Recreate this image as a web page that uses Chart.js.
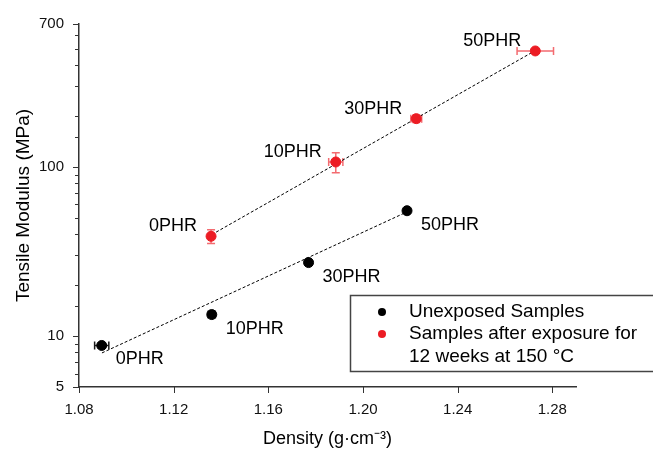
<!DOCTYPE html>
<html>
<head>
<meta charset="utf-8">
<script src="https://cdn.jsdelivr.net/npm/chart.js@4"></script>
<style>
  body { margin: 0; background: #fff; }
  canvas { display: block; }
</style>
</head>
<body>
<canvas id="myChart" width="653" height="450"></canvas>
<script>

// data start

const categories = ['0PHR', '10PHR', '30PHR', '50PHR'];

const unexposedDensity = [1.0896, 1.1361, 1.1770, 1.2186];
const unexposedModulus = [8.8, 13.4, 27.2, 55.1];
const unexposedDensityErr = [0.003, 0.0015, 0.001, 0.0005];
const unexposedModulusErr = [0.3, 0.5, 0.8, 1.5];

const exposedDensity = [1.1358, 1.1885, 1.2225, 1.2728];
const exposedModulus = [38.9, 107, 193, 485];
const exposedDensityErr = [0.001, 0.003, 0.0023, 0.0077];
const exposedModulusErr = [3.6, 14.5, 10, 15];

const fitUnexposedX = [1.0897, 1.2183];
const fitUnexposedY = [7.95, 54];
const fitExposedX = [1.1361, 1.2714];
const fitExposedY = [39.8, 475];

const xTicks = [1.08, 1.12, 1.16, 1.20, 1.24, 1.28];
const yTickLabels = [5, 10, 100, 700];

const seriesNames = ['Unexposed Samples', 'Samples after exposure for', '12 weeks at 150 \u00B0C'];

// data end

const FONT = 'Liberation Sans, Arial, Helvetica, sans-serif';
const RED = '#ec1c24';
const AXIS = '#333333';

function toPoints(xs, ys) {
  return xs.map(function (x, i) { return { x: x, y: ys[i] }; });
}

// error bars, drawn under the markers
const errorBars = {
  id: 'errorBars',
  beforeDatasetsDraw: function (chart) {
    const ctx = chart.ctx;
    const xs = chart.scales.x;
    const ys = chart.scales.y;
    const sets = [
      [unexposedDensity, unexposedModulus, unexposedDensityErr, unexposedModulusErr, 'rgba(0,0,0,0.9)'],
      [exposedDensity, exposedModulus, exposedDensityErr, exposedModulusErr, 'rgba(236,28,36,0.65)']
    ];
    ctx.save();
    ctx.lineWidth = 1.5;
    sets.forEach(function (s) {
      ctx.strokeStyle = s[4];
      s[0].forEach(function (d, i) {
        const px = xs.getPixelForValue(d);
        const py = ys.getPixelForValue(s[1][i]);
        const x1 = xs.getPixelForValue(d - s[2][i]);
        const x2 = xs.getPixelForValue(d + s[2][i]);
        const y1 = ys.getPixelForValue(s[1][i] + s[3][i]);
        const y2 = ys.getPixelForValue(s[1][i] - s[3][i]);
        ctx.beginPath();
        ctx.moveTo(x1, py); ctx.lineTo(x2, py);
        ctx.moveTo(x1, py - 4); ctx.lineTo(x1, py + 4);
        ctx.moveTo(x2, py - 4); ctx.lineTo(x2, py + 4);
        ctx.moveTo(px, y1); ctx.lineTo(px, y2);
        ctx.moveTo(px - 4, y1); ctx.lineTo(px + 4, y1);
        ctx.moveTo(px - 4, y2); ctx.lineTo(px + 4, y2);
        ctx.stroke();
      });
    });
    ctx.restore();
  }
};

// tick marks, point labels and legend box
const extras = {
  id: 'extras',
  afterDraw: function (chart) {
    const ctx = chart.ctx;
    const xs = chart.scales.x;
    const ys = chart.scales.y;
    const area = chart.chartArea;
    ctx.save();

    // tick marks
    ctx.strokeStyle = AXIS;
    ctx.lineWidth = 1;
    ys.ticks.forEach(function (t) {
      const major = yTickLabels.some(function (v) { return Math.abs(v - t.value) < 1e-6; });
      const y = Math.round(ys.getPixelForValue(t.value)) + 0.5;
      ctx.beginPath();
      ctx.moveTo(area.left - (major ? 6 : 4), y);
      ctx.lineTo(area.left, y);
      ctx.stroke();
    });
    xs.ticks.forEach(function (t) {
      const x = Math.round(xs.getPixelForValue(t.value)) + 0.5;
      ctx.beginPath();
      ctx.moveTo(x, area.bottom);
      ctx.lineTo(x, area.bottom + 6);
      ctx.stroke();
    });

    // point labels
    ctx.font = '18px ' + FONT;
    ctx.fillStyle = '#000';
    ctx.textBaseline = 'middle';
    ctx.textAlign = 'right';
    categories.forEach(function (c, i) {
      ctx.fillText(c, xs.getPixelForValue(exposedDensity[i]) - 14, ys.getPixelForValue(exposedModulus[i]) - 10);
    });
    ctx.textAlign = 'left';
    categories.forEach(function (c, i) {
      ctx.fillText(c, xs.getPixelForValue(unexposedDensity[i]) + 14, ys.getPixelForValue(unexposedModulus[i]) + 14);
    });

    // legend
    ctx.strokeStyle = '#444';
    ctx.lineWidth = 1.5;
    ctx.strokeRect(350.5, 295.5, 320, 76);
    ctx.font = '19px ' + FONT;
    ctx.fillStyle = '#000';
    ctx.beginPath(); ctx.arc(382, 312, 4, 0, Math.PI * 2); ctx.fill();
    ctx.fillStyle = RED;
    ctx.beginPath(); ctx.arc(382, 334, 4, 0, Math.PI * 2); ctx.fill();
    ctx.fillStyle = '#000';
    ctx.fillText(seriesNames[0], 409, 312);
    ctx.fillText(seriesNames[1], 409, 334);
    ctx.fillText(seriesNames[2], 409, 357);

    ctx.restore();
  }
};

const ctx = document.getElementById('myChart');

new Chart(ctx, {
  type: 'scatter',
  data: {
    datasets: [{
      label: seriesNames[0],
      data: toPoints(unexposedDensity, unexposedModulus),
      backgroundColor: '#000',
      borderColor: '#000',
      pointRadius: 5,
      pointHoverRadius: 5
    }, {
      label: seriesNames[1],
      data: toPoints(exposedDensity, exposedModulus),
      backgroundColor: RED,
      borderColor: RED,
      pointRadius: 5,
      pointHoverRadius: 5
    }, {
      label: 'fit unexposed',
      data: toPoints(fitUnexposedX, fitUnexposedY),
      showLine: true,
      borderColor: '#000',
      borderWidth: 1,
      borderDash: [3, 2],
      pointRadius: 0
    }, {
      label: 'fit exposed',
      data: toPoints(fitExposedX, fitExposedY),
      showLine: true,
      borderColor: '#000',
      borderWidth: 1,
      borderDash: [3, 2],
      pointRadius: 0
    }]
  },
  options: {
    responsive: false,
    animation: false,
    layout: { padding: { left: 0, top: 20, right: 77, bottom: 0 } },
    plugins: {
      legend: { display: false },
      tooltip: { enabled: false }
    },
    scales: {
      x: {
        type: 'linear',
        min: 1.08,
        max: 1.29,
        afterFit: function (s) { s.height = 63; },
        grid: { drawOnChartArea: false, drawTicks: false },
        border: { color: AXIS, width: 1.5 },
        afterBuildTicks: function (s) { s.ticks = xTicks.map(function (v) { return { value: v }; }); },
        ticks: {
          padding: 14,
          color: '#111',
          font: { family: FONT, size: 15 },
          callback: function (v) { return v.toFixed(2); }
        },
        title: {
          display: true,
          text: 'Density (g\u00B7cm\u207B\u00B3)',
          color: '#000',
          font: { family: FONT, size: 18 },
          padding: { top: 0, bottom: 0 }
        }
      },
      y: {
        type: 'logarithmic',
        min: 5,
        max: 700,
        afterFit: function (s) { s.width = 79; },
        grid: { drawOnChartArea: false, drawTicks: false },
        border: { color: AXIS, width: 1.5 },
        ticks: {
          autoSkip: false,
          padding: 15,
          color: '#111',
          font: { family: FONT, size: 15 },
          callback: function (v) {
            return yTickLabels.some(function (t) { return Math.abs(t - v) < 1e-6; }) ? String(v) : '';
          }
        },
        title: {
          display: true,
          text: 'Tensile Modulus (MPa)',
          color: '#000',
          font: { family: FONT, size: 19 },
          padding: { top: 12, bottom: 0 }
        }
      }
    }
  },
  plugins: [errorBars, extras]
});

</script>
</body>
</html>
